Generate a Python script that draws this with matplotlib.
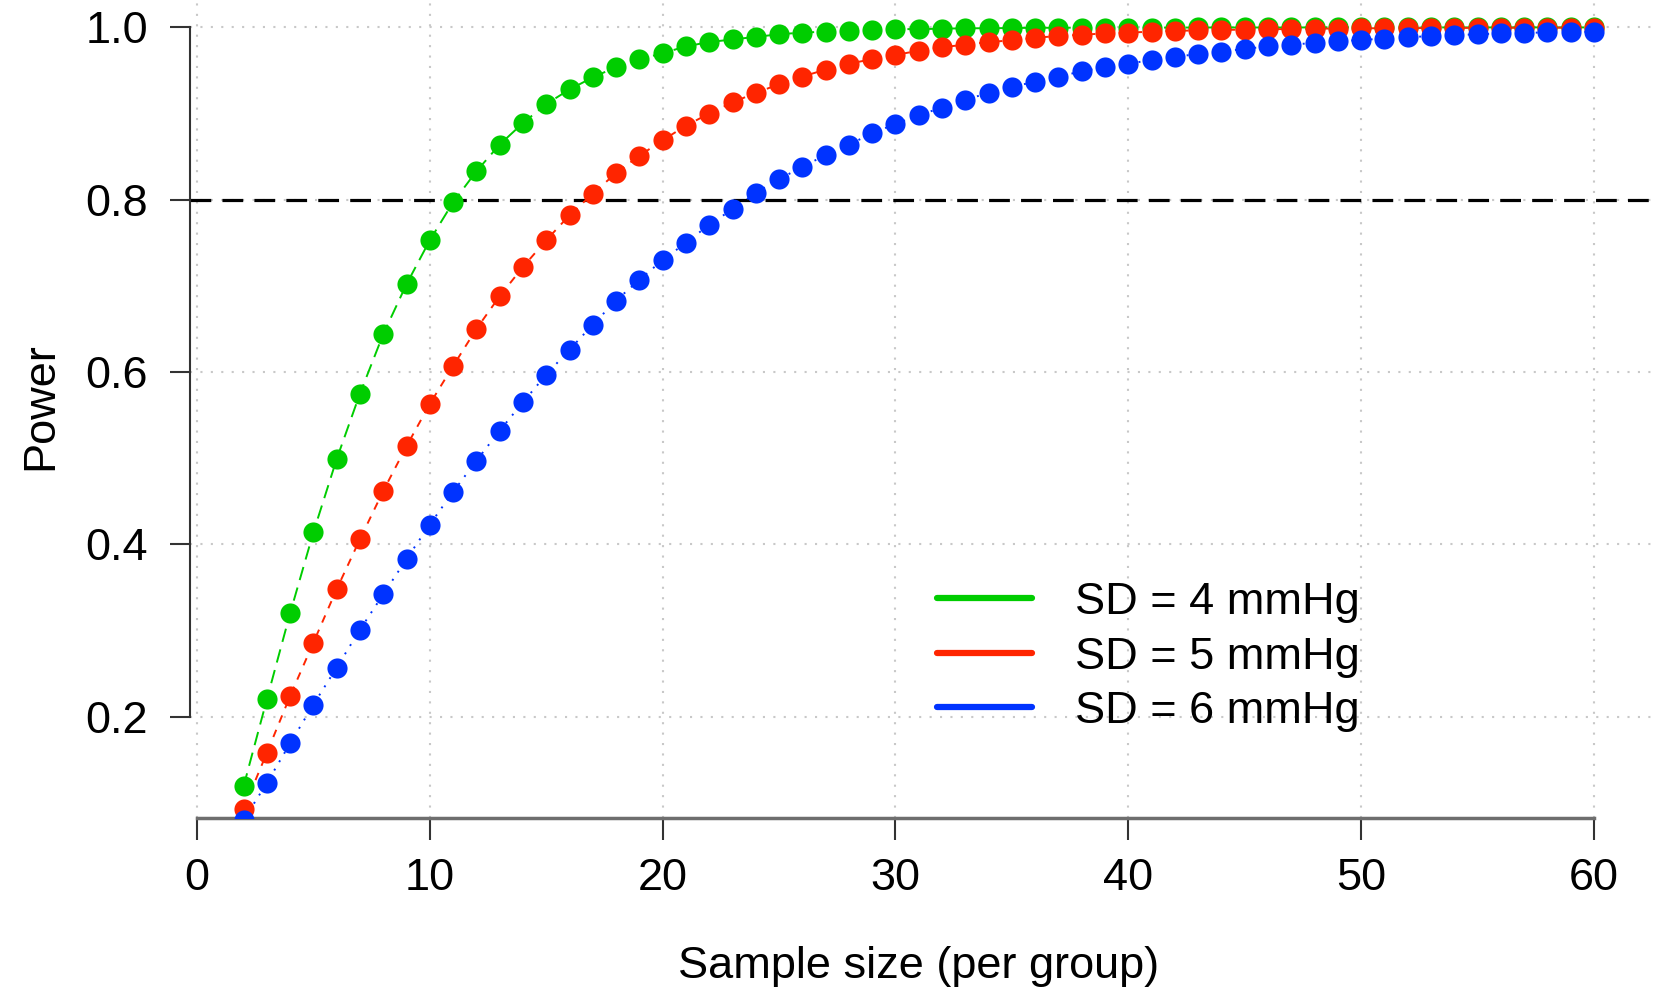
import matplotlib
matplotlib.use('Agg')
import matplotlib.pyplot as plt
from matplotlib.lines import Line2D

# ============================================
# data
# ============================================
sample_size = list(range(2, 61))

power_sd4 = [0.119, 0.220, 0.320, 0.414, 0.499, 0.575, 0.644, 0.702, 0.753, 0.797,
             0.833, 0.864, 0.889, 0.911, 0.928, 0.942, 0.954, 0.963, 0.970, 0.978,
             0.983, 0.986, 0.989, 0.992, 0.994, 0.995, 0.996, 0.997, 0.998, 0.998,
             0.9985, 0.999, 0.999, 0.9993, 0.9995, 0.9996, 0.9997, 0.9997, 0.9998, 0.9998,
             0.9998, 0.9999, 0.9999, 0.9999, 0.9999, 0.9999, 1.0, 1.0, 1.0, 1.0,
             1.0, 1.0, 1.0, 1.0, 1.0, 1.0, 1.0, 1.0, 1.0]

power_sd5 = [0.093, 0.158, 0.224, 0.286, 0.348, 0.406, 0.462, 0.514, 0.563, 0.607,
             0.650, 0.688, 0.722, 0.753, 0.782, 0.807, 0.831, 0.851, 0.869, 0.886,
             0.900, 0.913, 0.924, 0.934, 0.943, 0.951, 0.958, 0.963, 0.968, 0.973,
             0.977, 0.980, 0.983, 0.985, 0.988, 0.990, 0.9915, 0.993, 0.994, 0.995,
             0.996, 0.9965, 0.997, 0.9975, 0.998, 0.998, 0.9985, 0.9987, 0.999, 0.999,
             0.9992, 0.9993, 0.9994, 0.9995, 0.9996, 0.9996, 0.9997, 0.9997, 0.9998]

power_sd6 = [0.080, 0.123, 0.169, 0.214, 0.257, 0.301, 0.342, 0.383, 0.423, 0.461,
             0.497, 0.532, 0.565, 0.597, 0.626, 0.655, 0.683, 0.707, 0.730, 0.750,
             0.771, 0.789, 0.808, 0.824, 0.838, 0.852, 0.864, 0.877, 0.888, 0.898,
             0.907, 0.916, 0.924, 0.931, 0.937, 0.943, 0.949, 0.954, 0.958, 0.962,
             0.966, 0.969, 0.972, 0.975, 0.978, 0.980, 0.982, 0.984, 0.9854, 0.987,
             0.9885, 0.990, 0.991, 0.992, 0.993, 0.9935, 0.9943, 0.9947, 0.995]

labels = ['SD = 4 mmHg', 'SD = 5 mmHg', 'SD = 6 mmHg']
target_power = 0.8
x_ticks = [0, 10, 20, 30, 40, 50, 60]
y_ticks = [0.2, 0.4, 0.6, 0.8, 1.0]

COLORS = {
    'green': '#00CD00',
    'red': '#FF2500',
    'blue': '#0033FF',
    'grid': '#c8c8c8',
    'axis': '#6e6e6e',
}

plt.rcParams.update({
    'font.family': ['Liberation Sans', 'DejaVu Sans'],
    'font.size': 32.5,
})

fig = plt.figure(figsize=(16.55, 9.89), dpi=100)
ax = fig.add_axes([190 / 1655, 1 - 818 / 989, 1 - 190 / 1655, 818 / 989])

series = [
    (power_sd4, COLORS['green'], (7, 4)),
    (power_sd5, COLORS['red'], (4, 4)),
    (power_sd6, COLORS['blue'], (1, 4)),
]
for vals, col, dash in series:
    ax.plot(sample_size, vals, color=col, lw=1.4, dashes=dash, zorder=3)
    ax.plot(sample_size, vals, 'o', color=col, ms=14.5, mec='none', zorder=4)

# reference line at 80% power
ax.axhline(target_power, color='black', lw=2.3, dashes=(6.5, 3.5), zorder=2)

ax.set_xlim(-0.3, 62.62)
ax.set_ylim(0.0824, 1.0318)
ax.set_xticks(x_ticks)
ax.set_yticks(y_ticks)
ax.set_yticklabels([f'{v:.1f}' for v in y_ticks])

ax.grid(True, linestyle=(0, (1, 4)), color=COLORS['grid'], lw=1.5, zorder=0)
ax.set_axisbelow(True)

for s in ['top', 'right']:
    ax.spines[s].set_visible(False)
ax.spines['left'].set_bounds(0.2, 1.0)
ax.spines['left'].set_linewidth(1.5)
ax.spines['left'].set_color('#333333')
ax.spines['bottom'].set_bounds(0, 60)
ax.spines['bottom'].set_linewidth(2.5)
ax.spines['bottom'].set_color(COLORS['axis'])

ax.tick_params(axis='y', length=14.4, width=1.5, pad=16, color='#333333')
ax.tick_params(axis='x', length=16, width=1.5, pad=13, color='#333333')

ax.set_xlabel('Sample size (per group)', va='center')
ax.xaxis.set_label_coords(0.497, -0.182)
ax.set_ylabel('Power', va='center')
ax.yaxis.set_label_coords(-0.1017, 0.5037)

handles = [Line2D([], [], color=c, lw=4.5, solid_capstyle='round') for _, c, _ in series]
ax.legend(handles, labels, loc='center left', bbox_to_anchor=(937 / 1655, 1 - 657 / 989),
          bbox_transform=fig.transFigure, frameon=False, handlelength=2.1,
          handletextpad=0.95, labelspacing=0.3, borderpad=0, borderaxespad=0)

fig.savefig('out.png', dpi=100)
